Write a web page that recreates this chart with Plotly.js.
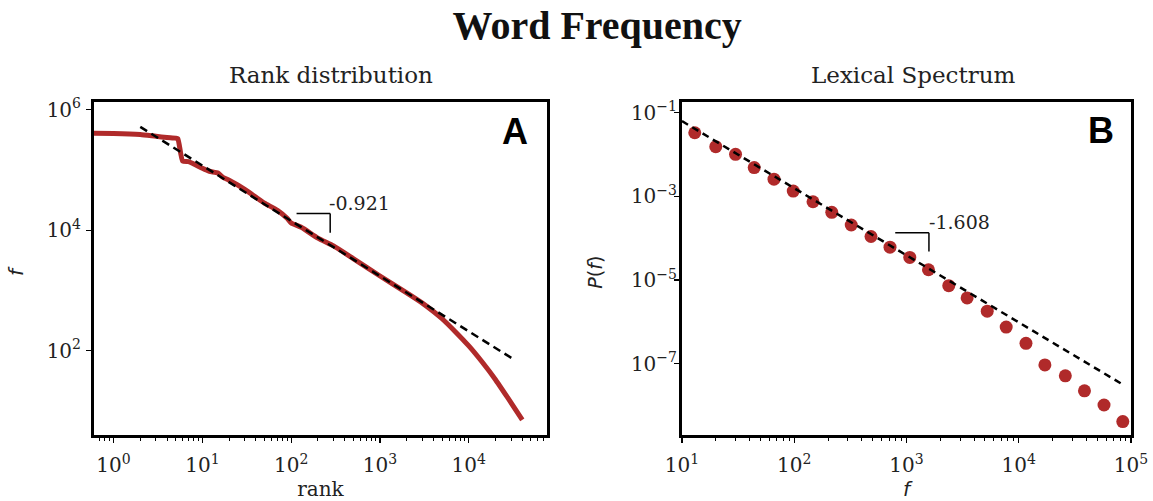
<!DOCTYPE html>
<html>
<head>
<meta charset="utf-8">
<script src="https://cdn.plot.ly/plotly-3.0.1.min.js"></script>
<style>html,body{margin:0;padding:0;background:#fff;}#chart{width:1153px;height:501px;}</style>
</head>
<body>
<div id="chart"></div>
<script>
// ---- Panel A: rank distribution ----
const rankA = [0.6, 1, 2, 3, 4, 5, 5.3, 6, 7, 8, 10, 12, 15, 17, 20, 30, 40, 50, 70, 90, 100, 130, 200, 300, 500, 1000, 2000, 3000, 4000, 5000, 7000, 10000, 14000, 20000, 28000, 40000];
const freqA = [407000, 405000, 389000, 363000, 347000, 339000, 331000, 141000, 138000, 126000, 107000, 95500, 89100, 75900, 67600, 47900, 35500, 28200, 21400, 15800, 13200, 11200, 7410, 5500, 3390, 1740, 912, 617, 447, 339, 209, 120, 66, 33, 15.8, 7.1];
const fitRankA = [2, 32000];
const fitFreqA = [520000, 72];
const slopeA = "-0.921";

// ---- Panel B: lexical spectrum ----
const freqB = [13, 20, 30, 44, 66, 98, 147, 216, 322, 483, 713, 1070, 1570, 2380, 3470, 5240, 7730, 11600, 17100, 26000, 38500, 57500, 84500];
const probB = [0.0334, 0.0155, 0.0102, 0.0049, 0.00259, 0.00134, 7.46e-4, 4.16e-4, 2.07e-4, 1.10e-4, 6.11e-5, 3.47e-5, 1.76e-5, 7.33e-6, 3.72e-6, 1.79e-6, 7.46e-7, 3.05e-7, 9.29e-8, 5.08e-8, 2.23e-8, 1.02e-8, 4.08e-9];
const fitFreqB = [10, 82000];
const fitProbB = [0.0634, 3.3e-8];
const slopeB = "-1.608";

const xTicksA = [1, 10, 100, 1000, 10000];
const xTickTextA = ["10<sup>0</sup>", "10<sup>1</sup>", "10<sup>2</sup>", "10<sup>3</sup>", "10<sup>4</sup>"];
const yTicksA = [100, 10000, 1000000];
const yTickTextA = ["10<sup>2</sup>", "10<sup>4</sup>", "10<sup>6</sup>"];
const xTicksB = [10, 100, 1000, 10000, 100000];
const xTickTextB = ["10<sup>1</sup>", "10<sup>2</sup>", "10<sup>3</sup>", "10<sup>4</sup>", "10<sup>5</sup>"];
const yTicksB = [1e-1, 1e-3, 1e-5, 1e-7];
const yTickTextB = ["10<sup>\u22121</sup>", "10<sup>\u22123</sup>", "10<sup>\u22125</sup>", "10<sup>\u22127</sup>"];

const RED = "#b02a2a";
const SERIF = "DejaVu Serif, Liberation Serif, serif";
const SANS = "DejaVu Sans, sans-serif";

function minorVals(lo, hi) {
  const v = [];
  for (let e = lo; e < hi; e++) for (let m = 2; m <= 9; m++) v.push(m * Math.pow(10, e));
  return v;
}

const traces = [
  {x: rankA, y: freqA, type: "scatter", mode: "lines", line: {color: RED, width: 5, shape: "spline", smoothing: 0.5}, xaxis: "x", yaxis: "y", hoverinfo: "skip"},
  {x: fitRankA, y: fitFreqA, type: "scatter", mode: "lines", line: {color: "black", width: 2.5, dash: "8px,5px"}, xaxis: "x", yaxis: "y", hoverinfo: "skip"},
  {x: freqB, y: probB, type: "scatter", mode: "markers", marker: {color: RED, size: 13}, xaxis: "x2", yaxis: "y2", hoverinfo: "skip"},
  {x: fitFreqB, y: fitProbB, type: "scatter", mode: "lines", line: {color: "black", width: 2.5, dash: "7px,5px"}, xaxis: "x2", yaxis: "y2", hoverinfo: "skip"}
];

const axisBase = {
  type: "log", showgrid: false, zeroline: false,
  showline: true, mirror: true, linecolor: "black", linewidth: 3,
  ticks: "outside", ticklen: 5, tickwidth: 1.2, tickcolor: "black",
  tickmode: "array", tickfont: {family: SERIF, size: 20, color: "#222"}
};

const layout = {
  width: 1153, height: 501,
  margin: {l: 94, r: 22, t: 102, b: 66},
  paper_bgcolor: "white", plot_bgcolor: "white",
  showlegend: false,
  title: {text: "<b>Word Frequency</b>", font: {family: "Liberation Serif, serif", size: 40, color: "#111"}, xref: "container", x: 0.518, xanchor: "center", yref: "container", y: 1 - 25 / 501, yanchor: "middle"},
  xaxis: Object.assign({}, axisBase, {domain: [0, 0.4368], range: [-0.22, 4.88], tickvals: xTicksA, ticktext: xTickTextA, ticklabelstandoff: 5,
    minor: {tickmode: "array", tickvals: minorVals(-1, 5), ticks: "outside", ticklen: 3, tickwidth: 1, tickcolor: "black"},
    title: {text: "rank", font: {family: SERIF, size: 20, color: "#222"}, standoff: 4}}),
  yaxis: Object.assign({}, axisBase, {domain: [0, 1], range: [0.6, 6.13], tickvals: yTicksA, ticktext: yTickTextA, anchor: "x", ticklabelstandoff: 1}),
  xaxis2: Object.assign({}, axisBase, {domain: [0.567, 1], range: [1, 5], tickvals: xTicksB, ticktext: xTickTextB, anchor: "y2", ticklabelstandoff: 5,
    minor: {tickmode: "array", tickvals: minorVals(1, 5), ticks: "outside", ticklen: 3, tickwidth: 1, tickcolor: "black"},
    title: {text: "<i>f</i>", font: {family: SANS, size: 20, color: "#222"}, standoff: 4}}),
  yaxis2: Object.assign({}, axisBase, {domain: [0, 1], range: [-8.71, -0.74], tickvals: yTicksB, ticktext: yTickTextB, anchor: "x2", ticklabelstandoff: -7}),
  shapes: [
    {type: "line", xref: "x", yref: "y", x0: 115, x1: 275, y0: 19050, y1: 19050, line: {color: "black", width: 1.5}},
    {type: "line", xref: "x", yref: "y", x0: 275, x1: 275, y0: 19050, y1: 9120, line: {color: "black", width: 1.5}},
    {type: "line", xref: "x2", yref: "y2", x0: 794, x1: 1585, y0: 1.35e-4, y1: 1.35e-4, line: {color: "black", width: 1.5}},
    {type: "line", xref: "x2", yref: "y2", x0: 1585, x1: 1585, y0: 1.35e-4, y1: 4.79e-5, line: {color: "black", width: 1.5}}
  ],
  annotations: [
    {xref: "paper", yref: "paper", x: 0.2285, y: 1.081, text: "Rank distribution", showarrow: false, xanchor: "center", yanchor: "middle", font: {family: SERIF, size: 23, color: "#222"}},
    {xref: "paper", yref: "paper", x: 0.790, y: 1.081, text: "Lexical Spectrum", showarrow: false, xanchor: "center", yanchor: "middle", font: {family: SERIF, size: 23, color: "#222"}},
    {xref: "paper", yref: "paper", x: -0.075, y: 0.493, text: "<i>f</i>", textangle: -90, showarrow: false, xanchor: "center", yanchor: "middle", font: {family: SANS, size: 20, color: "#222"}},
    {xref: "paper", yref: "paper", x: 0.483, y: 0.49, text: "<i>P</i>(<i>f</i>)", textangle: -90, showarrow: false, xanchor: "center", yanchor: "middle", font: {family: SANS, size: 19, color: "#222"}},
    {xref: "x domain", yref: "y domain", x: 0.93, y: 0.91, text: "<b>A</b>", showarrow: false, xanchor: "center", yanchor: "middle", font: {family: "Liberation Sans, Arial, sans-serif", size: 36, color: "black"}},
    {xref: "x2 domain", yref: "y2 domain", x: 0.934, y: 0.915, text: "<b>B</b>", showarrow: false, xanchor: "center", yanchor: "middle", font: {family: "Liberation Sans, Arial, sans-serif", size: 36, color: "black"}},
    {xref: "x", yref: "y", x: 2.40, y: 4.45, text: slopeA, showarrow: false, xanchor: "left", yanchor: "middle", font: {family: SERIF, size: 19, color: "#222"}},
    {xref: "x2", yref: "y2", x: 3.18, y: -3.6, text: slopeB, showarrow: false, xanchor: "left", yanchor: "middle", font: {family: SERIF, size: 19, color: "#222"}}
  ]
};

Plotly.newPlot("chart", traces, layout, {displayModeBar: false, staticPlot: true});
</script>
</body>
</html>
